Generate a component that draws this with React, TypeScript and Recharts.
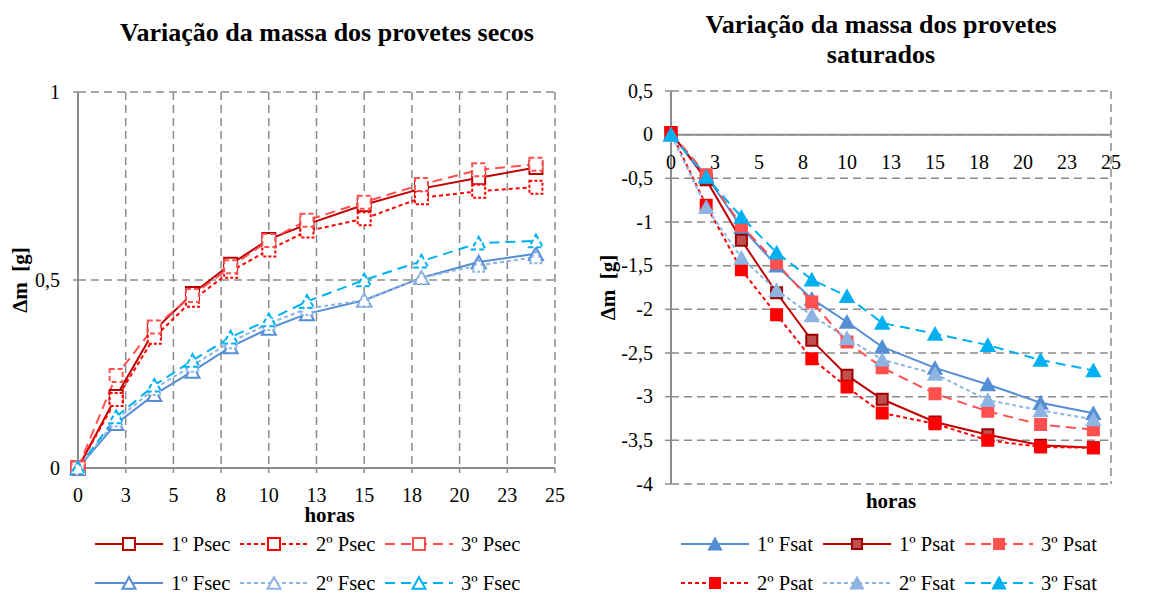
import React from 'react';
import { LineChart, Line, XAxis, YAxis, CartesianGrid, ReferenceLine, ReferenceDot } from 'recharts';

const FONT = '"Liberation Serif", "Times New Roman", serif';

// ---------- data ----------
const hours = [0, 2, 4, 6, 8, 10, 12, 15, 18, 21, 24];
const xTicks = [0, 2.5, 5, 7.5, 10, 12.5, 15, 17.5, 20, 22.5, 25];
const secYTicks = [0, 0.5, 1];
const satYTicks = [0.5, 0, -0.5, -1, -1.5, -2, -2.5, -3, -3.5, -4];

const psec1 = [0, 0.19, 0.366, 0.464, 0.542, 0.608, 0.648, 0.7, 0.743, 0.772, 0.799];
const psec2 = [0, 0.182, 0.348, 0.446, 0.523, 0.58, 0.63, 0.663, 0.719, 0.736, 0.747];
const psec3 = [0, 0.246, 0.375, 0.459, 0.535, 0.605, 0.659, 0.707, 0.754, 0.793, 0.808];
const fsec1 = [0, 0.118, 0.195, 0.257, 0.322, 0.371, 0.41, 0.446, 0.506, 0.548, 0.57];
const fsec2 = [0, 0.127, 0.211, 0.273, 0.335, 0.384, 0.424, 0.446, 0.506, 0.539, 0.561];
const fsec3 = [0, 0.136, 0.22, 0.286, 0.348, 0.394, 0.443, 0.5, 0.55, 0.598, 0.604];

const fsat1 = [0, -0.47, -1.06, -1.5, -1.88, -2.145, -2.43, -2.67, -2.86, -3.07, -3.19];
const psat1 = [0.025, -0.515, -1.21, -1.81, -2.355, -2.756, -3.03, -3.29, -3.435, -3.557, -3.584];
const psat3 = [0.025, -0.458, -1.04, -1.47, -1.916, -2.374, -2.668, -2.966, -3.168, -3.32, -3.378];
const psat2 = [0.025, -0.809, -1.546, -2.061, -2.565, -2.89, -3.187, -3.31, -3.5, -3.576, -3.585];
const fsat2 = [0, -0.83, -1.41, -1.78, -2.07, -2.33, -2.576, -2.74, -3.04, -3.157, -3.26];
const fsat3 = [0, -0.485, -0.943, -1.35, -1.66, -1.85, -2.156, -2.28, -2.41, -2.58, -2.7];

const secData = hours.map((h, i) => ({
  h, psec1: psec1[i], psec2: psec2[i], psec3: psec3[i], fsec1: fsec1[i], fsec2: fsec2[i], fsec3: fsec3[i],
}));
const satData = hours.map((h, i) => ({
  h, fsat1: fsat1[i], psat1: psat1[i], psat3: psat3[i], psat2: psat2[i], fsat2: fsat2[i], fsat3: fsat3[i],
}));

// ---------- styles ----------
type S = {
  key: string; name: string; color: string; dash?: string; marker: 'sq' | 'tri';
  fill: string; mstroke: string; size: number;
};

const DARK = '#C00000';
const RED = '#FF0000';
const LRED = '#FF5050';
const BLUE = '#558ED5';
const LBLUE = '#8EB4E3';
const CYAN = '#00B0F0';
const DOT = '4 3';
const DASH = '10 6';

const secSeries: S[] = [
  { key: 'psec1', name: '1º Psec', color: DARK, marker: 'sq', fill: '#fff', mstroke: DARK, size: 13 },
  { key: 'psec2', name: '2º Psec', color: RED, dash: DOT, marker: 'sq', fill: '#fff', mstroke: RED, size: 13 },
  { key: 'psec3', name: '3º Psec', color: LRED, dash: DASH, marker: 'sq', fill: '#fff', mstroke: LRED, size: 13 },
  { key: 'fsec1', name: '1º Fsec', color: BLUE, marker: 'tri', fill: '#fff', mstroke: BLUE, size: 14 },
  { key: 'fsec2', name: '2º Fsec', color: LBLUE, dash: DOT, marker: 'tri', fill: '#fff', mstroke: LBLUE, size: 14 },
  { key: 'fsec3', name: '3º Fsec', color: CYAN, dash: DASH, marker: 'tri', fill: '#fff', mstroke: CYAN, size: 14 },
];

const satSeries: S[] = [
  { key: 'fsat1', name: '1º Fsat', color: BLUE, marker: 'tri', fill: BLUE, mstroke: BLUE, size: 13 },
  { key: 'psat1', name: '1º Psat', color: DARK, marker: 'sq', fill: '#C0504D', mstroke: '#A00000', size: 11 },
  { key: 'psat3', name: '3º Psat', color: LRED, dash: DASH, marker: 'sq', fill: LRED, mstroke: LRED, size: 11 },
  { key: 'psat2', name: '2º Psat', color: RED, dash: DOT, marker: 'sq', fill: RED, mstroke: RED, size: 11 },
  { key: 'fsat2', name: '2º Fsat', color: LBLUE, dash: DOT, marker: 'tri', fill: LBLUE, mstroke: LBLUE, size: 13 },
  { key: 'fsat3', name: '3º Fsat', color: CYAN, dash: DASH, marker: 'tri', fill: CYAN, mstroke: CYAN, size: 13 },
];

function markerPath(m: 'sq' | 'tri', cx: number, cy: number, s: number) {
  if (m === 'sq') return `M${cx - s / 2},${cy - s / 2}h${s}v${s}h${-s}Z`;
  const w = s, h = s * 0.9;
  return `M${cx},${cy - h / 2}L${cx + w / 2},${cy + h / 2}L${cx - w / 2},${cy + h / 2}Z`;
}

function makeDot(s: S) {
  return (p: any) => {
    if (p == null || p.cx == null || p.cy == null) return <g key={`${s.key}-e-${p?.index}`} />;
    return (
      <path
        key={`${s.key}-${p.index}`}
        d={markerPath(s.marker, p.cx, p.cy, s.size)}
        fill={s.fill}
        stroke={s.mstroke}
        strokeWidth={2}
        strokeDasharray={s.fill === '#fff' ? (s.dash === DASH ? '5 3' : s.dash === DOT ? '3 2' : undefined) : undefined}
      />
    );
  };
}

const fmtX = (v: number) => String(Math.round(v));
const fmtY = (v: number) => String(v).replace('.', ',');

const GRID = '#8c8c8c';
const TICK_FS = 20;
const boldLabel = { fill: '#000', fontSize: 21, fontWeight: 'bold', fontFamily: FONT };

const XTick = (p: any) => (
  <text x={p.x} y={p.y} dy="0.71em" textAnchor="middle" fill="#000" fontSize={TICK_FS} fontFamily={FONT}>
    {fmtX(p.payload.value)}
  </text>
);
const YTick = (p: any) => (
  <text x={p.x} y={p.y} dy="0.34em" textAnchor="end" fill="#000" fontSize={TICK_FS} fontFamily={FONT}>
    {fmtY(p.payload.value)}
  </text>
);

const ZeroLineTick = (value: number) => (props: any) => {
  const vb = props.viewBox || {};
  const cx = (vb.x || 0) + (vb.width || 0) / 2;
  const cy = (vb.y || 0) + (vb.height || 0);
  return (
    <text x={cx} y={cy + 20} dy="0.71em" textAnchor="middle" fill="#000" fontSize={TICK_FS} fontFamily={FONT}>
      {fmtX(value)}
    </text>
  );
};

function LegendItem({ s, left, top }: { s: S; left: number; top: number }) {
  return (
    <div style={{ position: 'absolute', left, top: top - 12, height: 24, display: 'flex', alignItems: 'center', whiteSpace: 'nowrap' }}>
      <svg width={68} height={24} style={{ display: 'block' }}>
        <line x1={0} y1={12} x2={68} y2={12} stroke={s.color} strokeWidth={2} strokeDasharray={s.dash} />
        <path d={markerPath(s.marker, 34, 12, s.size - 1)} fill={s.fill} stroke={s.mstroke} strokeWidth={2} />
      </svg>
      <span style={{ marginLeft: 8, fontFamily: FONT, fontSize: 20.5, color: '#000', lineHeight: '24px' }}>{s.name}</span>
    </div>
  );
}

function SecChart() {
  return (
    <LineChart width={583} height={594} data={secData} margin={{ top: 92, right: 28, left: 20, bottom: 66 }} style={{ fontFamily: FONT }}>
      <CartesianGrid stroke={GRID} strokeWidth={1.5} strokeDasharray="8 5" />
      <XAxis
        dataKey="h"
        type="number"
        domain={[0, 25]}
        ticks={xTicks}
        interval={0}
        height={60}
        axisLine={{ stroke: GRID, strokeWidth: 2 }}
        tickLine={{ stroke: GRID, strokeWidth: 1.5 }}
        tickSize={5}
        tickMargin={15}
        tick={XTick}
        label={{ value: 'horas', position: 'insideBottom', offset: 6, dx: 13, style: boldLabel }}
      />
      <YAxis
        type="number"
        domain={[0, 1]}
        ticks={secYTicks}
        interval={0}
        width={58}
        axisLine={{ stroke: GRID, strokeWidth: 2 }}
        tickLine={{ stroke: GRID, strokeWidth: 1.5 }}
        tickSize={5}
        tickMargin={13}
        tick={YTick}
        label={{ value: 'Δm\u00a0 [g]', angle: -90, position: 'insideLeft', offset: 0, style: { ...boldLabel, textAnchor: 'middle' } }}
      />
      {secSeries.map((s) => (
        <Line
          key={s.key}
          dataKey={s.key}
          name={s.name}
          type="linear"
          stroke={s.color}
          strokeWidth={2}
          strokeDasharray={s.dash}
          dot={makeDot(s)}
          activeDot={false}
          isAnimationActive={false}
        />
      ))}
    </LineChart>
  );
}

function SatChart() {
  return (
    <LineChart width={583} height={594} data={satData} margin={{ top: 91, right: 55, left: 20, bottom: 80 }} style={{ fontFamily: FONT }}>
      <CartesianGrid stroke={GRID} strokeWidth={1.5} strokeDasharray="8 5" />
      <XAxis
        dataKey="h"
        type="number"
        domain={[0, 25]}
        ticks={xTicks}
        interval={0}
        height={30}
        axisLine={false}
        tickLine={false}
        tick={false}
        label={{ value: 'horas', position: 'insideBottom', offset: 6, style: boldLabel }}
      />
      <YAxis
        type="number"
        domain={[-4, 0.5]}
        ticks={satYTicks}
        interval={0}
        width={68}
        axisLine={{ stroke: GRID, strokeWidth: 2 }}
        tickLine={{ stroke: GRID, strokeWidth: 1.5 }}
        tickSize={6}
        tickMargin={12}
        tick={YTick}
        label={{ value: 'Δm\u00a0 [g]', angle: -90, position: 'insideLeft', offset: 5, style: { ...boldLabel, textAnchor: 'middle' } }}
      />
      <ReferenceLine y={0} stroke={GRID} strokeWidth={2} />
      {xTicks.map((t) => (
        <ReferenceDot
          key={`xt-${t}`}
          x={t}
          y={0}
          r={0}
          fill="none"
          stroke="none"
          label={{ content: ZeroLineTick(t) }}
        />
      ))}
      {satSeries.map((s) => (
        <Line
          key={s.key}
          dataKey={s.key}
          name={s.name}
          type="linear"
          stroke={s.color}
          strokeWidth={2}
          strokeDasharray={s.dash}
          dot={makeDot(s)}
          activeDot={false}
          isAnimationActive={false}
        />
      ))}
    </LineChart>
  );
}

export default function App() {
  return (
    <div style={{ position: 'absolute', left: 0, top: 0, width: 1166, height: 594, background: '#fff', overflow: 'hidden', fontFamily: FONT }}>
      <div style={{ position: 'absolute', left: 0, top: 0 }}>
        <SecChart />
      </div>
      <div style={{ position: 'absolute', left: 583, top: 0 }}>
        <SatChart />
      </div>
      <div style={{ position: 'absolute', left: 27, top: 18, width: 600, textAlign: 'center', fontFamily: FONT, fontWeight: 'bold', fontSize: 26, lineHeight: '30px', color: '#000' }}>
        Variação da massa dos provetes secos
      </div>
      <div style={{ position: 'absolute', left: 581, top: 10, width: 600, textAlign: 'center', fontFamily: FONT, fontWeight: 'bold', fontSize: 26, lineHeight: '30px', color: '#000' }}>
        Variação da massa dos provetes<br />saturados
      </div>
      {secSeries.map((s, i) => (
        <LegendItem key={s.key} s={s} left={95 + (i % 3) * 145} top={i < 3 ? 544 : 583} />
      ))}
      {satSeries.map((s, i) => (
        <LegendItem key={s.key} s={s} left={681 + (i % 3) * 142} top={i < 3 ? 544 : 583} />
      ))}
    </div>
  );
}
